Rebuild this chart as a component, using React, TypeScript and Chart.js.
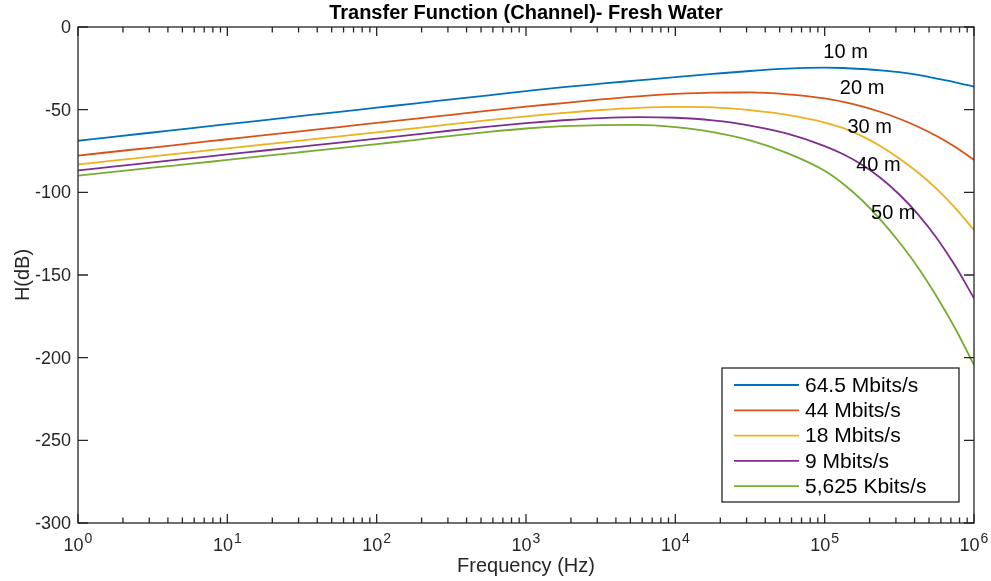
import React, { useEffect, useRef } from "react";
import { Chart, registerables } from "chart.js";

Chart.register(...registerables);

// Frequency samples (Hz)
const freqHz = [
  1, 1.778, 3.162, 5.623, 10, 17.78, 31.62, 56.23, 100, 177.8, 316.2, 562.3,
  1000, 1778, 3162, 5623, 10000, 17783, 31623, 56234, 100000,
  133352, 177828, 237137, 316228, 421697, 562341, 749894, 1000000,
];

// H(dB) for each distance
const h10m = [
  -68.8, -66.3, -63.8, -61.3, -58.8, -56.3, -53.8, -51.3, -48.8, -46.3, -43.8, -41.3,
  -38.8, -36.4, -34.3, -32.3, -30.3, -28.4, -26.6, -25.2, -24.6,
  -24.8, -25.4, -26.2, -27.3, -29.0, -31.2, -33.5, -36.1,
];
const h20m = [
  -77.8, -75.3, -72.9, -70.4, -67.9, -65.4, -63.0, -60.5, -58.0, -55.6, -53.1, -50.6,
  -48.2, -46.0, -43.8, -41.9, -40.5, -39.7, -39.6, -40.7, -43.2,
  -45.3, -48.0, -51.4, -55.5, -60.3, -65.9, -72.6, -80.4,
];
const h30m = [
  -83.1, -80.7, -78.3, -75.8, -73.4, -71.0, -68.6, -66.1, -63.7, -61.3, -58.8, -56.3,
  -54.0, -52.0, -50.2, -48.9, -48.3, -48.6, -50.3, -53.2, -57.8,
  -61.2, -66.0, -72.1, -79.5, -88.0, -97.9, -109.5, -122.8,
];
const h40m = [
  -86.7, -84.3, -81.9, -79.5, -77.1, -74.7, -72.3, -69.9, -67.5, -65.1, -62.6, -60.2,
  -58.1, -56.4, -55.1, -54.5, -54.9, -56.5, -59.6, -64.5, -72.0,
  -77.0, -83.3, -91.3, -101.3, -113.3, -127.6, -144.6, -164.1,
];
const h50m = [
  -89.9, -87.5, -85.1, -82.8, -80.4, -78.0, -75.6, -73.2, -70.8, -68.4, -65.8, -63.4,
  -61.4, -60.0, -59.3, -59.2, -60.6, -63.6, -68.6, -76.3, -87.0,
  -95.0, -104.8, -116.6, -130.2, -145.4, -163.0, -182.5, -204.4,
];

const seriesLabels = ["64.5 Mbits/s", "44 Mbits/s", "18 Mbits/s", "9 Mbits/s", "5,625 Kbits/s"];
const seriesColors = ["#0072BD", "#D95319", "#EDB120", "#7E2F8E", "#77AC30"];

// Distance annotations (text, frequency, dB)
const distLabels = ["10 m", "20 m", "30 m", "40 m", "50 m"];
const distLabelFreq = [138000, 178000, 200000, 229000, 288000];
const distLabelDb = [-15.3, -37.1, -60.9, -83.5, -112.7];

const yTicks = [0, -50, -100, -150, -200, -250, -300];
const xDecades = [0, 1, 2, 3, 4, 5, 6];

const titleText = "Transfer Function (Channel)- Fresh Water";
const xTitle = "Frequency (Hz)";
const yTitle = "H(dB)";

const FONT = "'Liberation Sans', Arial, Helvetica, sans-serif";
const INK = "#262626";

const decorPlugin = {
  id: "decor",
  afterDatasetsDraw(chart: any) {
    const ctx = chart.ctx as CanvasRenderingContext2D;
    const { left, right, top, bottom } = chart.chartArea;
    const xs = chart.scales.x;
    const ys = chart.scales.y;
    ctx.save();

    // distance annotations
    ctx.fillStyle = "#000";
    ctx.font = `20px ${FONT}`;
    ctx.textAlign = "center";
    ctx.textBaseline = "middle";
    distLabels.forEach((t, i) => {
      ctx.fillText(t, xs.getPixelForValue(distLabelFreq[i]), ys.getPixelForValue(distLabelDb[i]));
    });

    // axes box
    ctx.strokeStyle = INK;
    ctx.lineWidth = 1.3;
    ctx.strokeRect(left, top, right - left, bottom - top);

    // x ticks (log)
    ctx.beginPath();
    xDecades.forEach((d) => {
      const px = xs.getPixelForValue(Math.pow(10, d));
      ctx.moveTo(px, bottom);
      ctx.lineTo(px, bottom - 9);
      ctx.moveTo(px, top);
      ctx.lineTo(px, top + 9);
      if (d < 6) {
        for (let k = 2; k <= 9; k++) {
          const mx = xs.getPixelForValue(k * Math.pow(10, d));
          ctx.moveTo(mx, bottom);
          ctx.lineTo(mx, bottom - 5.5);
          ctx.moveTo(mx, top);
          ctx.lineTo(mx, top + 5.5);
        }
      }
    });
    // y ticks
    yTicks.forEach((v) => {
      const py = ys.getPixelForValue(v);
      ctx.moveTo(left, py);
      ctx.lineTo(left + 10, py);
      ctx.moveTo(right, py);
      ctx.lineTo(right - 10, py);
    });
    ctx.stroke();

    // y tick labels
    ctx.fillStyle = INK;
    ctx.font = `18px ${FONT}`;
    ctx.textAlign = "right";
    ctx.textBaseline = "middle";
    yTicks.forEach((v) => {
      ctx.fillText(String(v), left - 7, ys.getPixelForValue(v) + 1);
    });

    // x tick labels 10^d
    ctx.textBaseline = "alphabetic";
    ctx.textAlign = "left";
    xDecades.forEach((d) => {
      const px = xs.getPixelForValue(Math.pow(10, d));
      ctx.font = `18px ${FONT}`;
      const wb = ctx.measureText("10").width;
      ctx.font = `14px ${FONT}`;
      const we = ctx.measureText(String(d)).width;
      const x0 = px - (wb + we + 1) / 2;
      ctx.font = `18px ${FONT}`;
      ctx.fillText("10", x0, bottom + 28);
      ctx.font = `14px ${FONT}`;
      ctx.fillText(String(d), x0 + wb + 1, bottom + 20);
    });

    // axis titles
    ctx.font = `20px ${FONT}`;
    ctx.textAlign = "center";
    ctx.fillText(xTitle, (left + right) / 2, bottom + 49);
    ctx.save();
    ctx.translate(29, (top + bottom) / 2);
    ctx.rotate(-Math.PI / 2);
    ctx.textBaseline = "alphabetic";
    ctx.fillText(yTitle, 0, 0);
    ctx.restore();

    // title
    ctx.fillStyle = "#000";
    ctx.font = `bold 20px ${FONT}`;
    ctx.textAlign = "center";
    ctx.textBaseline = "alphabetic";
    ctx.fillText(titleText, (left + right) / 2, 19);

    // legend
    const lw = 237;
    const lh = 134;
    const lx = right - 15 - lw;
    const ly = bottom - 21 - lh;
    ctx.fillStyle = "#fff";
    ctx.fillRect(lx, ly, lw, lh);
    ctx.strokeStyle = INK;
    ctx.lineWidth = 1.3;
    ctx.strokeRect(lx, ly, lw, lh);
    ctx.font = `21px ${FONT}`;
    ctx.textAlign = "left";
    ctx.textBaseline = "middle";
    chart.data.datasets.forEach((ds: any, i: number) => {
      const cy = ly + 17 + i * 25.3;
      ctx.strokeStyle = ds.borderColor;
      ctx.lineWidth = 1.8;
      ctx.beginPath();
      ctx.moveTo(lx + 12, cy);
      ctx.lineTo(lx + 77, cy);
      ctx.stroke();
      ctx.fillStyle = "#000";
      ctx.fillText(ds.label, lx + 83, cy + 1);
    });

    ctx.restore();
  },
};

export default function App() {
  const ref = useRef<HTMLCanvasElement | null>(null);

  useEffect(() => {
    if (!ref.current) return;
    const all = [h10m, h20m, h30m, h40m, h50m];
    const chart = new Chart(ref.current, {
      type: "line",
      data: {
        datasets: all.map((vals, i) => ({
          label: seriesLabels[i],
          data: freqHz.map((f, j) => ({ x: f, y: vals[j] })),
          borderColor: seriesColors[i],
          backgroundColor: seriesColors[i],
          borderWidth: 1.8,
          pointRadius: 0,
          cubicInterpolationMode: "monotone",
          fill: false,
        })),
      },
      options: {
        animation: false,
        responsive: false,
        devicePixelRatio: 1,
        layout: { padding: { left: 78, right: 17, top: 27, bottom: 58 } },
        scales: {
          x: { type: "logarithmic", min: 1, max: 1e6, display: false },
          y: { type: "linear", min: -300, max: 0, display: false },
        },
        plugins: {
          legend: { display: false },
          title: { display: false },
          tooltip: { enabled: false },
        },
        events: [],
      },
      plugins: [decorPlugin],
    });
    return () => chart.destroy();
  }, []);

  return (
    <div style={{ position: "absolute", left: 0, top: 0, width: 991, height: 581, background: "#fff" }}>
      <canvas ref={ref} width={991} height={581} />
    </div>
  );
}
